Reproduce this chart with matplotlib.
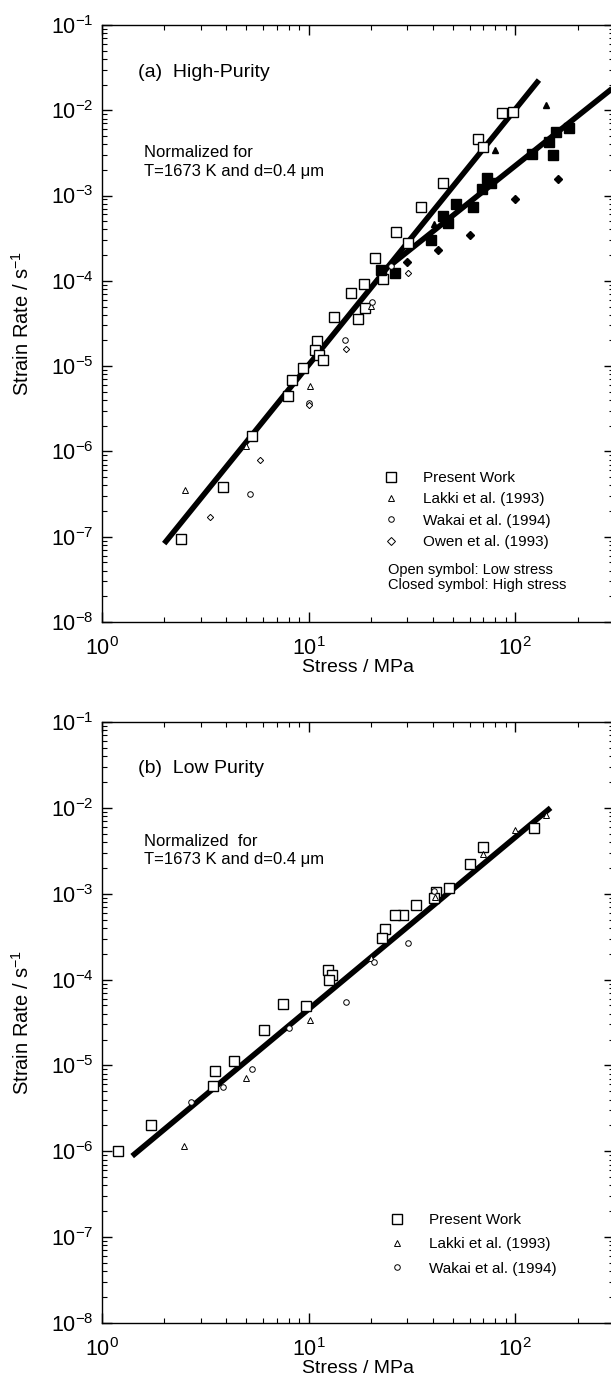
# Creep data: strain rate vs stress (log-log), two panels
import matplotlib
matplotlib.use('Agg')
import matplotlib.pyplot as plt
from matplotlib.lines import Line2D
from matplotlib.ticker import NullFormatter

plt.rcParams['font.family'] = ['Liberation Sans', 'DejaVu Sans']
plt.rcParams['mathtext.fontset'] = 'custom'
plt.rcParams['mathtext.rm'] = 'Liberation Sans'
plt.rcParams['mathtext.it'] = 'Liberation Sans:italic'

# ---------------- (a) High-Purity ----------------
a_pw_open_x = [86.3, 97.5, 65.9, 69.5, 44.5, 35.0, 26.5, 30.2, 20.9, 23.0, 18.5, 16.1,
               13.2, 18.7, 17.3, 11.0, 10.7, 11.2, 11.7, 9.4, 8.34, 7.9, 5.34, 3.86, 2.41]
a_pw_open_y = [9.2e-3, 9.6e-3, 4.6e-3, 3.7e-3, 1.4e-3, 7.4e-4, 3.7e-4, 2.76e-4, 1.86e-4,
               1.05e-4, 9.3e-5, 7.2e-5, 3.8e-5, 4.8e-5, 3.6e-5, 1.95e-5, 1.55e-5, 1.35e-5,
               1.19e-5, 9.5e-6, 6.8e-6, 4.5e-6, 1.5e-6, 3.8e-7, 9.3e-8]
a_pw_closed_x = [22.5, 26.2, 39.0, 44.7, 47.0, 51.7, 62.3, 68.6, 72.6, 76.4, 121, 145, 157, 152, 182]
a_pw_closed_y = [1.35e-4, 1.23e-4, 3.0e-4, 5.7e-4, 4.8e-4, 8.0e-4, 7.3e-4, 1.18e-3, 1.6e-3,
                 1.4e-3, 3.1e-3, 4.3e-3, 5.6e-3, 3.0e-3, 6.2e-3]
a_lakki_open_x = [2.51, 5.0, 10.1, 20.1]
a_lakki_open_y = [3.5e-7, 1.15e-6, 5.8e-6, 5.1e-5]
a_lakki_closed_x = [40.4, 80.0, 141]
a_lakki_closed_y = [4.6e-4, 3.4e-3, 1.15e-2]
a_wakai_x = [5.2, 10.0, 15.0, 20.2, 25.0]
a_wakai_y = [3.2e-7, 3.7e-6, 2.0e-5, 5.7e-5, 1.5e-4]
a_owen_open_x = [3.32, 5.82, 10.0, 15.1, 30.2]
a_owen_open_y = [1.7e-7, 7.9e-7, 3.5e-6, 1.58e-5, 1.23e-4]
a_owen_closed_x = [30.0, 42.2, 60.2, 100, 160]
a_owen_closed_y = [1.66e-4, 2.27e-4, 3.45e-4, 9.1e-4, 1.57e-3]
# fitted lines (end points)
a_fit_low_x = [2.0, 130]
a_fit_low_y = [8.3e-8, 2.26e-2]
a_fit_high_x = [24.5, 300]
a_fit_high_y = [1.48e-4, 1.87e-2]

# ---------------- (b) Low Purity ----------------
b_pw_x = [123, 69.8, 60.2, 47.9, 41.1, 40.2, 33.1, 28.6, 26.2, 23.5, 22.7, 12.4, 12.9, 12.5,
          9.7, 7.5, 6.05, 4.33, 3.53, 3.45, 1.73, 1.19]
b_pw_y = [5.8e-3, 3.5e-3, 2.2e-3, 1.17e-3, 1.05e-3, 8.9e-4, 7.3e-4, 5.6e-4, 5.6e-4, 3.9e-4,
          3.05e-4, 1.3e-4, 1.12e-4, 9.8e-5, 4.9e-5, 5.2e-5, 2.6e-5, 1.14e-5, 8.7e-6, 5.7e-6,
          2.0e-6, 1.0e-6]
b_lakki_x = [2.49, 4.99, 10.1, 20.1, 40.9, 69.8, 100, 140]
b_lakki_y = [1.15e-6, 7.1e-6, 3.4e-5, 1.78e-4, 9.1e-4, 2.9e-3, 5.5e-3, 8.3e-3]
b_wakai_x = [2.69, 3.83, 5.33, 8.04, 15.1, 20.6, 30.1, 40.4]
b_wakai_y = [3.8e-6, 5.6e-6, 9.1e-6, 2.7e-5, 5.5e-5, 1.6e-4, 2.7e-4, 1.07e-3]
b_fit_x = [1.40, 148]
b_fit_y = [8.8e-7, 1.0e-2]

# axis ticks
x_major = [1, 10, 100]
y_major = [1e-8, 1e-7, 1e-6, 1e-5, 1e-4, 1e-3, 1e-2, 1e-1]

LW_FIT = 4.0
SQ = 7.5
SM = 4.0


def style_axes(ax):
    ax.set_xscale('log')
    ax.set_yscale('log')
    ax.set_xlim(1, 300)
    ax.set_ylim(1e-8, 1e-1)
    ax.set_xticks(x_major)
    ax.set_yticks(y_major)
    ax.tick_params(which='both', direction='in', top=True, right=True)
    ax.tick_params(which='major', length=7, width=1.0, labelsize=15.5)
    ax.tick_params(axis='x', which='major', pad=11)
    ax.tick_params(axis='y', which='major', pad=6)
    ax.tick_params(which='minor', length=3.5, width=0.8)
    ax.xaxis.set_minor_formatter(NullFormatter())
    ax.yaxis.set_minor_formatter(NullFormatter())
    for s in ax.spines.values():
        s.set_linewidth(1.0)
    ax.set_xlabel('Stress / MPa', fontsize=14, labelpad=-1)
    ax.set_ylabel('Strain Rate / s$^{-1}$', fontsize=14.5, labelpad=13)


def sq_handle():
    return Line2D([], [], ls='none', marker='s', ms=7, mfc='white', mec='black', mew=1.0)


def small_handle(m):
    return Line2D([], [], ls='none', marker=m, ms=SM, mfc='white', mec='black', mew=0.7)


fig = plt.figure(figsize=(6.11, 13.8), dpi=100)
ax_a = fig.add_axes([0.1669, 0.5493, 0.8380, 0.4326])
ax_b = fig.add_axes([0.1669, 0.0413, 0.8380, 0.4355])

# panel (a)
ax_a.plot(a_fit_low_x, a_fit_low_y, color='black', lw=LW_FIT, solid_capstyle='butt', zorder=2)
ax_a.plot(a_fit_high_x, a_fit_high_y, color='black', lw=LW_FIT, solid_capstyle='butt', zorder=2)
ax_a.plot(a_pw_open_x, a_pw_open_y, ls='none', marker='s', ms=SQ, mfc='white', mec='black', mew=1.0, zorder=3)
ax_a.plot(a_pw_closed_x, a_pw_closed_y, ls='none', marker='s', ms=SQ, mfc='black', mec='black', zorder=3)
ax_a.plot(a_lakki_open_x, a_lakki_open_y, ls='none', marker='^', ms=SM, mfc='white', mec='black', mew=0.7, zorder=3)
ax_a.plot(a_lakki_closed_x, a_lakki_closed_y, ls='none', marker='^', ms=SM + 1, mfc='black', mec='black', zorder=3)
ax_a.plot(a_wakai_x, a_wakai_y, ls='none', marker='o', ms=SM, mfc='white', mec='black', mew=0.7, zorder=3)
ax_a.plot(a_owen_open_x, a_owen_open_y, ls='none', marker='D', ms=3.2, mfc='white', mec='black', mew=0.7, zorder=3)
ax_a.plot(a_owen_closed_x, a_owen_closed_y, ls='none', marker='D', ms=3.8, mfc='black', mec='black', zorder=3)
style_axes(ax_a)

ax_a.text(0.070, 0.921, '(a)  High-Purity', transform=ax_a.transAxes, fontsize=14, va='center')
ax_a.text(0.082, 0.786, 'Normalized for', transform=ax_a.transAxes, fontsize=12, va='center')
ax_a.text(0.082, 0.755, 'T=1673 K and d=0.4 \u03bcm', transform=ax_a.transAxes, fontsize=12, va='center')

handles_a = [sq_handle(), small_handle('^'), small_handle('o'), small_handle('D')]
labels_a = ['Present Work', 'Lakki et al. (1993)', 'Wakai et al. (1994)', 'Owen et al. (1993)']
ax_a.legend(handles_a, labels_a, loc='upper left', bbox_to_anchor=(0.5496, 0.253), frameon=False,
            fontsize=11, handlelength=1.0, handletextpad=1.6, labelspacing=0.48,
            borderpad=0, borderaxespad=0, numpoints=1)
ax_a.text(0.559, 0.087, 'Open symbol: Low stress', transform=ax_a.transAxes, fontsize=10.5, va='center')
ax_a.text(0.559, 0.062, 'Closed symbol: High stress', transform=ax_a.transAxes, fontsize=10.5, va='center')

# panel (b)
ax_b.plot(b_fit_x, b_fit_y, color='black', lw=LW_FIT, solid_capstyle='butt', zorder=2)
ax_b.plot(b_pw_x, b_pw_y, ls='none', marker='s', ms=SQ, mfc='white', mec='black', mew=1.0, zorder=3)
ax_b.plot(b_lakki_x, b_lakki_y, ls='none', marker='^', ms=SM, mfc='white', mec='black', mew=0.7, zorder=3)
ax_b.plot(b_wakai_x, b_wakai_y, ls='none', marker='o', ms=SM, mfc='white', mec='black', mew=0.7, zorder=3)
style_axes(ax_b)

ax_b.text(0.070, 0.922, '(b)  Low Purity', transform=ax_b.transAxes, fontsize=14, va='center')
ax_b.text(0.082, 0.802, 'Normalized  for', transform=ax_b.transAxes, fontsize=12, va='center')
ax_b.text(0.082, 0.772, 'T=1673 K and d=0.4 \u03bcm', transform=ax_b.transAxes, fontsize=12, va='center')

handles_b = [sq_handle(), small_handle('^'), small_handle('o')]
labels_b = ['Present Work', 'Lakki et al. (1993)', 'Wakai et al. (1994)']
ax_b.legend(handles_b, labels_b, loc='upper left', bbox_to_anchor=(0.561, 0.183), frameon=False,
            fontsize=11, handlelength=1.0, handletextpad=1.6, labelspacing=0.68,
            borderpad=0, borderaxespad=0, numpoints=1)

fig.savefig('out.png', dpi=100)
